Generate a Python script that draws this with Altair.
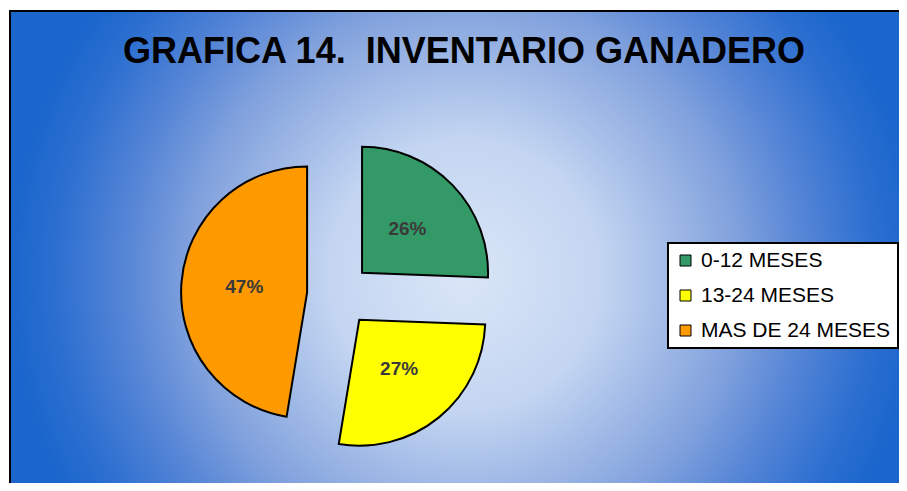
import altair as alt
import pandas as pd

# ---- data ----
categories = ["0-12 MESES", "13-24 MESES", "MAS DE 24 MESES"]
percent = [25.6, 27.0, 47.4]
order = [0, 1, 2]
colors = ["#339966", "#FFFF00", "#FF9900"]
title_text = "GRAFICA 14.\u00a0\u00a0INVENTARIO GANADERO"

df = pd.DataFrame({"cat": categories, "pct": percent, "order": order})

# ---- layout (pixels in view coordinates) ----
CX, CY, R, D, LR = 329, 284, 126, 32, 63
W, H = 889, 472

gradient = {
    "gradient": "radial",
    "x1": 0.5, "y1": 0.52, "r1": 0,
    "x2": 0.5, "y2": 0.52, "r2": 0.5,
    "stops": [
        {"offset": 0.0, "color": "#dae6f7"},
        {"offset": 0.3, "color": "#c3d5f1"},
        {"offset": 0.6, "color": "#82a2dd"},
        {"offset": 0.75, "color": "#5585d6"},
        {"offset": 0.9, "color": "#2c6fd0"},
        {"offset": 1.0, "color": "#1a66cc"},
    ],
}

bg = alt.Chart(pd.DataFrame({"k": [0]})).mark_rect(
    fill=gradient, stroke="black", strokeWidth=2
).encode(x=alt.value(0), x2=alt.value(W + 20), y=alt.value(0), y2=alt.value(H + 20))

base = (
    alt.Chart(df)
    .transform_window(cum="sum(pct)", sort=[alt.SortField("order")], frame=[None, 0])
    .transform_joinaggregate(total="sum(pct)")
    .transform_calculate(t2="2*PI*datum.cum/datum.total")
    .transform_calculate(t1="2*PI*(datum.cum-datum.pct)/datum.total")
    .transform_calculate(mid="(datum.t1+datum.t2)/2")
    .transform_calculate(ax=f"{CX}+{D}*sin(datum.mid)")
    .transform_calculate(ay=f"{CY}-{D}*cos(datum.mid)")
    .transform_calculate(lx=f"{CX}+{D + LR}*sin(datum.mid)")
    .transform_calculate(ly=f"{CY}-{D + LR}*cos(datum.mid)")
    .transform_calculate(label="format(100*datum.pct/datum.total, '.0f') + '%'")
)

arcs = base.mark_arc(radius=R, stroke="black", strokeWidth=2).encode(
    x=alt.X("ax:Q", scale=None, axis=None),
    y=alt.Y("ay:Q", scale=None, axis=None),
    theta=alt.Theta("t1:Q", scale=None, stack=None),
    theta2="t2:Q",
    color=alt.Color(
        "cat:N",
        scale=alt.Scale(domain=categories, range=colors),
        legend=alt.Legend(
            title=None,
            orient="none",
            legendX=658,
            legendY=232,
            fillColor="white",
            strokeColor="black",
            padding=7,
            symbolType="square",
            symbolSize=121,
            symbolStrokeColor="black",
            symbolStrokeWidth=1,
            symbolOpacity=1,
            labelFont="Liberation Sans",
            labelFontSize=21,
            labelColor="black",
            labelOffset=5,
            labelLimit=400,
            rowPadding=13,
        ),
    ),
)

texts = base.mark_text(
    font="Liberation Sans", fontSize=19, fontWeight="bold", color="#3a3a3a"
).encode(
    x=alt.X("lx:Q", scale=None, axis=None),
    y=alt.Y("ly:Q", scale=None, axis=None),
    text="label:N",
)

title = alt.Chart(pd.DataFrame({"t": [title_text]})).mark_text(
    font="Liberation Sans", fontSize=36, fontWeight="bold", color="black"
).encode(x=alt.value(454), y=alt.value(41), text="t:N")

chart = (
    alt.layer(bg, arcs, texts, title)
    .properties(
        width=W,
        height=H,
        autosize="none",
        padding={"left": 2, "top": 3, "right": 0, "bottom": 0},
        background="white",
    )
    .configure_view(stroke=None)
    .configure_legend(strokeWidth=2)
)

chart.save("out.html", embed_options={"renderer": "svg", "actions": False})
